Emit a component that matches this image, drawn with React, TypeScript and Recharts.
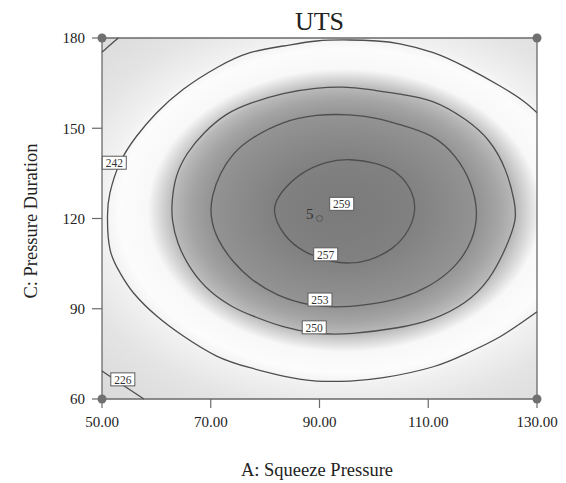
import React from 'react';
import { ComposedChart, XAxis, YAxis, Scatter, ReferenceArea } from 'recharts';

// Axis ticks
const squeezePressureTicks = [50, 70, 90, 110, 130];
const pressureDurationTicks = [60, 90, 120, 150, 180];

// Contour lines of the UTS response surface, as [A: squeeze pressure, C: pressure duration]
const contour259: [number, number][] = [
  [93.8, 123.0], [94.08, 123.3], [94.36, 123.0], [94.08, 122.7],
];

const contour257: [number, number][] = [
  [81.08, 122.82], [82.74, 128.57], [86.41, 135.22], [91.32, 139.11], [95.62, 139.87],
  [100.52, 138.54], [104.8, 135.22], [107.25, 128.57], [107.75, 122.82], [106.64, 116.17],
  [103.57, 109.52], [98.68, 105.63], [95.62, 105.1], [92.54, 105.3], [87.02, 108.62],
  [83.34, 114.17],
];

const contour253: [number, number][] = [
  [69.86, 120.82], [70.17, 127.47], [71.7, 135.22], [74.15, 141.87], [77.22, 146.59],
  [83.34, 152.41], [89.49, 154.63], [95.62, 154.63], [100.52, 153.5], [104.8, 151.24],
  [110.93, 147.98], [115.23, 140.77], [117.99, 131.89], [119.21, 122.15], [118.29, 112.84],
  [115.23, 103.97], [110.32, 97.32], [104.8, 93.23], [100.52, 91.8], [94.38, 90.34],
  [88.25, 90.9], [82.13, 94.23], [77.22, 99.88], [74.15, 105.3], [71.09, 113.08],
];

const contour250: [number, number][] = [
  [62.82, 125.25], [63.43, 134.12], [65.58, 141.87], [68.63, 148.52], [72.93, 155.17],
  [77.22, 158.39], [83.34, 161.81], [89.49, 163.48], [94.38, 163.81], [98.68, 163.15],
  [104.8, 161.28], [110.93, 159.62], [117.07, 152.97], [121.36, 146.32], [124.43, 136.35],
  [125.95, 125.25], [126.27, 119.73], [124.43, 110.62], [121.36, 99.55], [117.07, 91.8],
  [110.93, 86.25], [104.8, 83.59], [95.62, 81.49], [89.49, 81.49], [83.34, 83.69],
  [77.22, 87.91], [74.15, 90.34], [69.86, 95.33], [66.18, 103.1], [63.74, 111.95],
  [62.82, 119.83],
];

// 242 leaves the plot through the right edge, so it is an open curve
const contour242: [number, number][] = [
  [130, 155.17], [127.48, 159.06], [123.2, 164.04], [117.07, 170.13], [110.93, 175.11],
  [104.8, 178.07], [100.52, 179.0], [95.62, 179.34], [89.49, 179.0], [83.34, 177.34],
  [77.22, 175.11], [71.09, 170.13], [64.95, 162.95], [60.06, 155.17], [56.38, 147.42],
  [53.31, 138.54], [51.47, 128.57], [51.01, 120.82], [51.47, 109.75], [53.31, 101.97],
  [55.76, 95.33], [60.06, 87.58], [64.95, 80.93], [71.09, 74.28], [77.22, 70.39],
  [83.34, 67.63], [89.49, 65.97], [95.62, 65.97], [101.73, 67.07], [110.93, 70.72],
  [117.07, 75.18], [123.2, 80.7], [130, 89.01],
];

const contour226Upper: [number, number][] = [[50, 175.3], [51.5, 177.7], [53.0, 180]];
const contour226Lower: [number, number][] = [[50, 69.3], [53.6, 64.9], [57.7, 60]];

const contourLevels = [259, 257, 253, 250, 242, 226, 226];
const contourPaths = [contour259, contour257, contour253, contour250, contour242, contour226Upper, contour226Lower];
const contourClosed = [true, true, true, true, false, false, false];

// Level labels placed along the contours
const labelLevels = [259, 257, 253, 250, 242, 226];
const labelA = [94.08, 91.14, 90.09, 89.03, 52.26, 53.83];
const labelC = [124.87, 108.09, 93.06, 83.82, 138.54, 66.53];

// Design points: factorial corners and replicated centre point
const cornerA = [50, 50, 130, 130];
const cornerC = [60, 180, 60, 180];
const centreA = [90];
const centreC = [120];
const centreRuns = [5];

const SERIF = "'Liberation Serif', 'Times New Roman', Times, serif";
const LINE = '#4d4d4d';
const FRAME = '#6a6a6a';
const TEXT = '#222';

const toPoints = (pairs: [number, number][]) => pairs.map(([A, C]) => ({ A, C }));

const labelData = labelLevels.map((level, i) => ({ A: labelA[i], C: labelC[i], level }));
const cornerData = cornerA.map((A, i) => ({ A, C: cornerC[i] }));
const centreData = centreA.map((A, i) => ({ A, C: centreC[i], runs: centreRuns[i] }));

// Grey ramp of the surface, keyed by relative distance from the optimum (1 = the 242 contour)
const shadeStops: [number, string][] = [
  [0, '#7a7a7a'],
  [0.3, '#818181'],
  [0.56, '#939393'],
  [0.65, '#a4a4a4'],
  [0.72, '#b8b8b8'],
  [0.78, '#dadada'],
  [0.83, '#f8f8f8'],
  [0.95, '#fcfcfc'],
  [1.02, '#f1f1f1'],
  [1.2, '#e4e4e4'],
  [1.5, '#d9d9d9'],
];
const SHADE_REACH = 1.5;
const shadeCx = 0.5568;
const shadeCy = 0.4778;
const shadeR = 0.8162;
const shadeSquash = 0.868;

const NoMarker = () => <g />;

const LevelBox = (props: any) => {
  const { cx, cy } = props;
  const level = props.payload?.level ?? props.level;
  return (
    <g>
      <rect x={cx - 12} y={cy - 6.5} width={24} height={13} fill="#fff" stroke="#5c5c5c" strokeWidth={1} />
      <text x={cx} y={cy + 4.2} textAnchor="middle" fontSize={11.5} fontFamily={SERIF} fill="#333">
        {level}
      </text>
    </g>
  );
};

const CornerDot = (props: any) => <circle cx={props.cx} cy={props.cy} r={4.5} fill="#707070" />;

const CentreDot = (props: any) => {
  const runs = props.payload?.runs ?? props.runs;
  return (
    <g>
      <circle cx={props.cx} cy={props.cy} r={3} fill="none" stroke="#555" strokeWidth={1} />
      <text x={props.cx - 6} y={props.cy} textAnchor="end" fontSize={15} fontFamily={SERIF} fill="#333">
        {runs}
      </text>
    </g>
  );
};

export default function App() {
  return (
    <div style={{ position: 'fixed', left: 0, top: 0, width: 566, height: 483, background: '#fff' }}>
      <ComposedChart width={566} height={483} margin={{ top: 38, right: 29, bottom: 24, left: 0 }}>
        <defs>
          <radialGradient
            id="utsSurface"
            cx={shadeCx}
            cy={shadeCy}
            r={shadeR}
            gradientTransform={`translate(0 ${shadeCy}) scale(1 ${shadeSquash}) translate(0 ${-shadeCy})`}
          >
            {shadeStops.map(([t, c]) => (
              <stop key={t} offset={t / SHADE_REACH} stopColor={c} />
            ))}
          </radialGradient>
        </defs>
        <XAxis
          type="number"
          dataKey="A"
          domain={[50, 130]}
          ticks={squeezePressureTicks}
          interval={0}
          tickFormatter={(v: number) => v.toFixed(2)}
          axisLine={false}
          tickLine={{ stroke: FRAME, strokeWidth: 1.2 }}
          tickSize={9}
          tickMargin={8}
          height={60}
          tick={{ fontSize: 15, fill: TEXT, fontFamily: SERIF }}
        />
        <YAxis
          type="number"
          dataKey="C"
          domain={[60, 180]}
          ticks={pressureDurationTicks}
          interval={0}
          axisLine={false}
          tickLine={{ stroke: FRAME, strokeWidth: 1.2 }}
          tickSize={10}
          tickMargin={7}
          width={102}
          tick={{ fontSize: 15, fill: TEXT, fontFamily: SERIF }}
        />
        <ReferenceArea
          x1={50}
          x2={130}
          y1={60}
          y2={180}
          fill="url(#utsSurface)"
          fillOpacity={1}
          stroke={FRAME}
          strokeWidth={1.3}
        />
        {contourPaths.map((path, i) => (
          <Scatter
            key={`contour-${i}`}
            data={toPoints(path)}
            line={{ stroke: LINE, strokeWidth: 1.3, fill: 'none' }}
            lineType="joint"
            lineJointType={contourClosed[i] ? 'basisClosed' : 'natural'}
            shape={NoMarker}
            legendType="none"
            name={`${contourLevels[i]}`}
            isAnimationActive={false}
          />
        ))}
        <Scatter data={labelData} shape={LevelBox} legendType="none" isAnimationActive={false} />
        <Scatter data={cornerData} shape={CornerDot} legendType="none" isAnimationActive={false} />
        <Scatter data={centreData} shape={CentreDot} legendType="none" isAnimationActive={false} />
        <text x={319.5} y={30} textAnchor="middle" fontSize={26} fontFamily={SERIF} fill={TEXT}>
          UTS
        </text>
        <text x={317} y={476} textAnchor="middle" fontSize={18.5} fontFamily={SERIF} fill={TEXT}>
          A: Squeeze Pressure
        </text>
        <text
          transform="translate(37 221) rotate(-90)"
          x={0}
          y={0}
          textAnchor="middle"
          fontSize={18.5}
          fontFamily={SERIF}
          fill={TEXT}
        >
          C: Pressure Duration
        </text>
      </ComposedChart>
    </div>
  );
}
